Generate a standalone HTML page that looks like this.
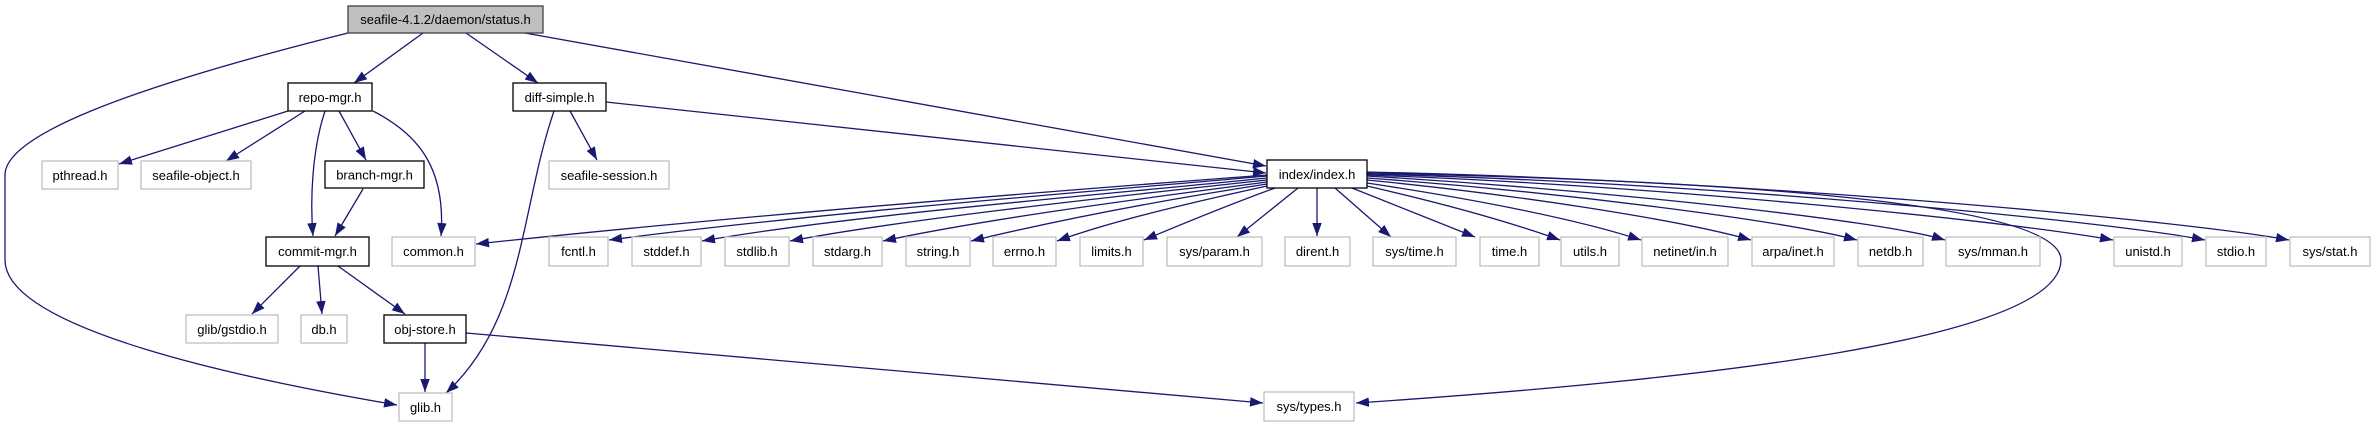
<!DOCTYPE html>
<html><head><meta charset="utf-8"><style>
html,body{margin:0;padding:0;background:#fff;}
svg{display:block;}
text{font-family:"Liberation Sans",Helvetica,sans-serif;font-size:13px;fill:#000;text-anchor:middle;}
.e{fill:none;stroke:#191970;stroke-width:1.3;marker-end:url(#a);}
.g{fill:#fff;stroke:#bfbfbf;stroke-width:1.3;}
.b{fill:#fff;stroke:#000;stroke-width:1.3;}
</style></head><body>
<svg width="2376" height="427" viewBox="0 0 2376 427" xmlns="http://www.w3.org/2000/svg">
<defs><marker id="a" markerUnits="userSpaceOnUse" markerWidth="14" markerHeight="10" refX="13" refY="4.75" orient="auto"><path d="M0,0 L13,4.75 L0,9.5 z" fill="#191970"/></marker></defs>
<path class="e" d="M348,33 C100,95 5,140 5,175 L5,260 C5,330 250,380 397,405"/>
<path class="e" d="M423,33 L354,83"/>
<path class="e" d="M466,33 L538,83"/>
<path class="e" d="M525,33 L1266,166"/>
<path class="e" d="M288,111 L119,164"/>
<path class="e" d="M305,111 L226,161"/>
<path class="e" d="M325,111 C312,150 310,200 313,236"/>
<path class="e" d="M339,111 L366,160"/>
<path class="e" d="M373,111 C420,135 446,170 441,236"/>
<path class="e" d="M363,189 L335,236"/>
<path class="e" d="M554,111 C520,210 525,320 446,393"/>
<path class="e" d="M570,111 L597,160"/>
<path class="e" d="M606,102 L1266,173"/>
<path class="e" d="M300,266 L252,314"/>
<path class="e" d="M318,266 L322,314"/>
<path class="e" d="M338,266 L405,314"/>
<path class="e" d="M425,343 L425,392"/>
<path class="e" d="M466,333 L1263,403"/>
<path class="e" d="M1267,175 C1000,195 700,220 476,244"/>
<path class="e" d="M1267,176 C1050,195 800,215 609,240"/>
<path class="e" d="M1267,178 C1100,195 850,215 702,241"/>
<path class="e" d="M1267,180 C1100,198 900,220 790,241"/>
<path class="e" d="M1267,182 C1130,200 980,220 883,241"/>
<path class="e" d="M1267,184 C1150,202 1050,222 971,241"/>
<path class="e" d="M1267,186 C1180,205 1110,222 1057,241"/>
<path class="e" d="M1275,188 C1220,208 1180,225 1144,240"/>
<path class="e" d="M1298,188 L1237,237"/>
<path class="e" d="M1317,188 L1317,236"/>
<path class="e" d="M1335,188 L1391,237"/>
<path class="e" d="M1352,188 L1475,237"/>
<path class="e" d="M1367,186 C1450,205 1510,222 1560,240"/>
<path class="e" d="M1367,183 C1480,200 1580,220 1641,240"/>
<path class="e" d="M1367,180 C1520,195 1680,220 1751,240"/>
<path class="e" d="M1367,178 C1560,192 1780,220 1857,240"/>
<path class="e" d="M1367,176 C1600,190 1880,220 1945,240"/>
<path class="e" d="M1367,175 C1650,185 2000,220 2113,240"/>
<path class="e" d="M1367,174 C1700,182 2100,220 2205,240"/>
<path class="e" d="M1367,172 C1750,180 2180,220 2289,240"/>
<path class="e" d="M1367,173 C1700,180 2061,200 2061,260 C2061,340 1700,380 1356,403"/>
<rect x="348" y="6" width="195" height="27" fill="#bfbfbf" stroke="#404040" stroke-width="1.3"/><text x="445.5" y="24">seafile-4.1.2/daemon/status.h</text>
<rect class="b" x="288" y="83" width="84" height="28"/><text x="330" y="102">repo-mgr.h</text>
<rect class="b" x="513" y="83" width="93" height="28"/><text x="559.5" y="102">diff-simple.h</text>
<rect class="g" x="42" y="161" width="76" height="28"/><text x="80" y="180">pthread.h</text>
<rect class="g" x="141" y="161" width="110" height="28"/><text x="196" y="180">seafile-object.h</text>
<rect class="b" x="325" y="161" width="99" height="27"/><text x="374.5" y="179.5">branch-mgr.h</text>
<rect class="g" x="549" y="161" width="120" height="28"/><text x="609" y="180">seafile-session.h</text>
<rect class="b" x="1267" y="160" width="100" height="28"/><text x="1317" y="179">index/index.h</text>
<rect class="b" x="266" y="237" width="103" height="29"/><text x="317.5" y="256">commit-mgr.h</text>
<rect class="g" x="392" y="237" width="83" height="29"/><text x="433.5" y="256">common.h</text>
<rect class="g" x="549" y="237" width="59" height="29"/><text x="578.5" y="256">fcntl.h</text>
<rect class="g" x="632" y="237" width="69" height="29"/><text x="666.5" y="256">stddef.h</text>
<rect class="g" x="725" y="237" width="64" height="29"/><text x="757" y="256">stdlib.h</text>
<rect class="g" x="813" y="237" width="69" height="29"/><text x="847.5" y="256">stdarg.h</text>
<rect class="g" x="906" y="237" width="64" height="29"/><text x="938" y="256">string.h</text>
<rect class="g" x="993" y="237" width="63" height="29"/><text x="1024.5" y="256">errno.h</text>
<rect class="g" x="1080" y="237" width="63" height="29"/><text x="1111.5" y="256">limits.h</text>
<rect class="g" x="1167" y="237" width="95" height="29"/><text x="1214.5" y="256">sys/param.h</text>
<rect class="g" x="1285" y="237" width="65" height="29"/><text x="1317.5" y="256">dirent.h</text>
<rect class="g" x="1373" y="237" width="83" height="29"/><text x="1414.5" y="256">sys/time.h</text>
<rect class="g" x="1480" y="237" width="59" height="29"/><text x="1509.5" y="256">time.h</text>
<rect class="g" x="1561" y="237" width="58" height="29"/><text x="1590" y="256">utils.h</text>
<rect class="g" x="1642" y="237" width="86" height="29"/><text x="1685" y="256">netinet/in.h</text>
<rect class="g" x="1752" y="237" width="82" height="29"/><text x="1793" y="256">arpa/inet.h</text>
<rect class="g" x="1858" y="237" width="65" height="29"/><text x="1890.5" y="256">netdb.h</text>
<rect class="g" x="1946" y="237" width="94" height="29"/><text x="1993" y="256">sys/mman.h</text>
<rect class="g" x="2114" y="237" width="68" height="29"/><text x="2148" y="256">unistd.h</text>
<rect class="g" x="2206" y="237" width="60" height="29"/><text x="2236" y="256">stdio.h</text>
<rect class="g" x="2290" y="237" width="80" height="29"/><text x="2330" y="256">sys/stat.h</text>
<rect class="g" x="186" y="315" width="92" height="28"/><text x="232" y="334">glib/gstdio.h</text>
<rect class="g" x="301" y="315" width="46" height="28"/><text x="324" y="334">db.h</text>
<rect class="b" x="384" y="315" width="82" height="28"/><text x="425" y="334">obj-store.h</text>
<rect class="g" x="399" y="393" width="53" height="28"/><text x="425.5" y="412">glib.h</text>
<rect class="g" x="1264" y="392" width="90" height="29"/><text x="1309" y="411">sys/types.h</text>
</svg>
</body></html>
